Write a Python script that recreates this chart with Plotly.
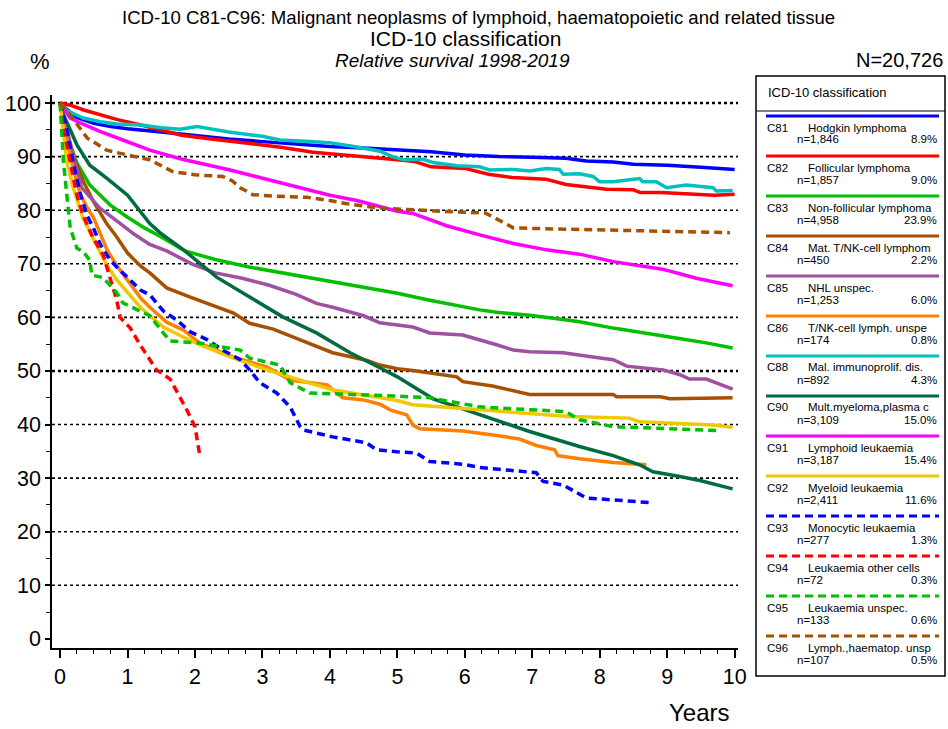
import plotly.graph_objects as go

# ---------------- data ----------------
codes = ["C81", "C82", "C83", "C84", "C85", "C86", "C88", "C90", "C91", "C92", "C93", "C94", "C95", "C96"]
names = ["Hodgkin lymphoma", "Follicular lymphoma", "Non-follicular lymphoma", "Mat. T/NK-cell lymphom",
         "NHL unspec.", "T/NK-cell lymph. unspe", "Mal. immunoprolif. dis.", "Mult.myeloma,plasma c",
         "Lymphoid leukaemia", "Myeloid leukaemia", "Monocytic leukaemia", "Leukaemia other cells",
         "Leukaemia unspec.", "Lymph.,haematop. unsp"]
n_cases = ["n=1,846", "n=1,857", "n=4,958", "n=450", "n=1,253", "n=174", "n=892", "n=3,109",
           "n=3,187", "n=2,411", "n=277", "n=72", "n=133", "n=107"]
shares = ["8.9%", "9.0%", "23.9%", "2.2%", "6.0%", "0.8%", "4.3%", "15.0%", "15.4%", "11.6%",
          "1.3%", "0.3%", "0.6%", "0.5%"]

c81_t = [0, 0.1, 0.25, 0.5, 0.75, 1, 1.5, 2, 2.5, 3, 3.5, 4, 4.5, 5, 5.5, 6, 6.5, 7, 7.5, 7.8, 8.2, 8.5, 9, 9.5, 10]
c81_v = [100, 98.8, 97.3, 96.2, 95.6, 95.2, 94.6, 93.9, 93.3, 92.8, 92.3, 91.9, 91.6, 91.3, 90.9, 90.3, 90.0,
         89.9, 89.7, 89.2, 89.0, 88.6, 88.4, 88.0, 87.6]

c82_t = [0, 0.15, 0.35, 0.6, 0.85, 1.1, 1.4, 1.8, 2.3, 2.8, 3.3, 3.75, 4.25, 4.75, 5.0, 5.25, 5.5, 6.0, 6.35,
         6.7, 7.2, 7.5, 7.8, 8.1, 8.5, 8.6, 8.9, 9.3, 9.7, 10]
c82_v = [100, 99.6, 98.7, 97.8, 96.9, 96.2, 95.3, 94.0, 93.2, 92.5, 91.7, 90.8, 90.3, 89.7, 89.4, 89.1, 88.1,
         87.8, 86.7, 86.1, 85.8, 84.8, 84.4, 83.9, 83.8, 83.3, 83.3, 83.0, 82.8, 83.0]

c83_t = [0, 0.05, 0.1, 0.25, 0.44, 0.74, 1.0, 1.25, 1.5, 1.85, 2.3, 2.8, 3.3, 3.8, 4.3, 4.74, 5.0, 5.48, 6.0,
         6.22, 6.5, 6.96, 7.4, 7.7, 8.2, 8.69, 9.2, 9.6, 9.97]
c83_v = [100, 97, 94, 88.8, 84.7, 81, 78.7, 76.7, 75.0, 72.4, 70.8, 69.4, 68.3, 67.1, 66.0, 65.1, 64.5, 63.2,
         61.9, 61.4, 60.9, 60.4, 59.7, 59.2, 58.0, 57.1, 56.0, 55.2, 54.3]

c84_t = [0, 0.1, 0.2, 0.34, 0.5, 0.69, 0.84, 1.0, 1.2, 1.33, 1.58, 1.93, 2.22, 2.57, 2.81, 3.16, 3.56, 4.04,
         4.54, 4.74, 5.0, 5.23, 5.88, 5.97, 6.41, 6.96, 7.5, 8.2, 8.25, 8.9, 9.04, 9.97]
c84_v = [100, 95, 90, 85.5, 81.5, 77.5, 75.0, 72.0, 69.5, 68.3, 65.5, 63.8, 62.5, 60.8, 58.9, 57.8, 55.8, 53.4,
         52.0, 51.1, 50.4, 50.1, 48.9, 48.0, 47.2, 45.6, 45.6, 45.6, 45.2, 45.2, 44.8, 45.0]

c85_t = [0, 0.15, 0.32, 0.59, 0.84, 1.1, 1.33, 1.58, 1.95, 2.3, 2.7, 3.1, 3.5, 3.8, 4.04, 4.5, 4.74, 5.0, 5.23,
         5.48, 5.97, 6.47, 6.72, 6.96, 7.46, 7.95, 8.2, 8.4, 8.94, 9.19, 9.33, 9.58, 9.97]
c85_v = [100, 92.2, 84.2, 80.4, 78.0, 75.5, 73.6, 72.4, 70.0, 68.3, 67.3, 66.0, 64.3, 62.6, 61.9, 60.3, 59.0,
         58.5, 58.2, 57.1, 56.7, 54.9, 53.9, 53.6, 53.4, 52.5, 52.1, 50.9, 50.2, 49.3, 48.5, 48.5, 46.6]

c86_t = [0, 0.1, 0.2, 0.3, 0.4, 0.5, 0.6, 0.7, 0.85, 1.0, 1.2, 1.33, 1.58, 1.83, 2.07, 2.57, 3.07, 3.41, 3.96,
         4.19, 4.5, 4.74, 4.9, 5.14, 5.23, 5.33, 5.97, 6.5, 6.81, 7.06, 7.33, 7.38, 7.7, 8.2, 8.69]
c86_v = [100, 93, 87.5, 83, 80.5, 78.5, 75.5, 72.5, 69.5, 67.0, 63.5, 61.9, 59.1, 57.6, 55.2, 52.6, 50.7, 48.3,
         47.4, 45.0, 44.6, 43.8, 42.7, 41.8, 39.9, 39.2, 38.8, 37.9, 37.3, 36.1, 35.3, 34.2, 33.6, 32.9, 32.5]

c88_t = [0, 0.1, 0.34, 0.6, 0.84, 1.2, 1.5, 1.78, 2.03, 2.5, 3.0, 3.26, 3.7, 4.0, 4.4, 4.74, 4.93, 5.1, 5.38,
         5.53, 5.88, 6.22, 6.37, 6.72, 6.96, 7.21, 7.4, 7.46, 7.7, 7.9, 8.0, 8.2, 8.59, 8.64, 8.84, 8.99, 9.28,
         9.68, 9.73, 9.97]
c88_v = [100, 98.6, 97.2, 96.5, 96.1, 95.9, 95.4, 95.1, 95.6, 94.6, 93.8, 93.1, 92.8, 92.6, 91.8, 91.0, 90.0,
         89.4, 89.5, 88.9, 88.3, 88.1, 87.5, 87.6, 87.3, 87.8, 87.6, 86.7, 86.8, 86.3, 85.3, 85.3, 85.9, 85.3,
         85.3, 84.2, 84.7, 84.2, 83.6, 83.7]

c90_t = [0, 0.05, 0.25, 0.44, 0.69, 1.0, 1.33, 1.5, 1.83, 2.32, 2.81, 3.3, 3.8, 4.3, 4.74, 5.0, 5.53, 6.22,
         6.96, 7.7, 8.2, 8.59, 8.79, 9.19, 9.5, 9.97]
c90_v = [100, 97.8, 92.2, 88.4, 86.0, 82.8, 77.5, 75.6, 72.6, 67.5, 63.8, 60.1, 57.1, 53.4, 50.6, 48.9, 44.8,
         41.8, 38.7, 35.9, 34.2, 32.5, 31.2, 30.3, 29.5, 28.0]

c91_t = [0, 0.15, 0.35, 0.59, 0.93, 1.33, 1.78, 2.2, 2.52, 2.9, 3.26, 3.6, 4.0, 4.4, 4.74, 5.0, 5.23, 5.73,
         6.22, 6.72, 7.21, 7.7, 8.2, 8.6, 8.93, 9.2, 9.43, 9.7, 9.97]
c91_v = [100, 97.2, 96.0, 94.7, 93.1, 91.2, 89.6, 88.5, 87.5, 86.3, 85.1, 84.0, 82.8, 81.8, 80.6, 79.8, 79.4,
         77.1, 75.4, 73.8, 72.6, 71.8, 70.4, 69.6, 69.0, 68.1, 67.3, 66.6, 65.9]

c92_t = [0, 0.05, 0.1, 0.2, 0.34, 0.54, 0.69, 0.84, 1.0, 1.19, 1.33, 1.53, 1.83, 2.07, 2.57, 3.07, 3.56, 4.04,
         4.5, 5.0, 5.23, 6.22, 7.55, 8.44, 8.59, 9.0, 9.68, 9.97]
c92_v = [100, 95, 89, 84, 78.5, 73.5, 69.8, 67.0, 64.6, 61.9, 60.3, 58.2, 56.3, 54.9, 52.4, 50.2, 48.3, 46.5,
         45.5, 44.5, 43.7, 42.7, 41.5, 41.2, 40.5, 40.3, 39.9, 39.5]

c93_t = [0, 0.1, 0.2, 0.3, 0.4, 0.5, 0.6, 0.74, 0.84, 1.0, 1.19, 1.33, 1.53, 1.73, 1.93, 2.17, 2.41, 2.67,
         2.81, 2.96, 3.21, 3.41, 3.56, 3.6, 4.04, 4.54, 4.69, 5.0, 5.28, 5.48, 5.97, 6.22, 7.06, 7.16, 7.46,
         7.8, 8.79]
c93_v = [100, 95, 88.5, 83, 79, 76.5, 73.5, 70.7, 69.4, 67.5, 65.1, 64.2, 61.2, 59.5, 57.3, 55.9, 53.9, 52.1,
         50.2, 47.8, 45.9, 43.3, 39.6, 39.0, 37.7, 36.6, 35.3, 34.9, 34.7, 33.1, 32.6, 32.0, 31.0, 29.4, 28.7,
         26.3, 25.4]

c94_t = [0, 0.05, 0.15, 0.25, 0.34, 0.49, 0.64, 0.74, 0.84, 0.89, 1.04, 1.19, 1.33, 1.43, 1.63, 1.78, 1.88,
         2.0, 2.05, 2.07]
c94_v = [100, 95.3, 89.0, 82.8, 79.1, 74.8, 71.6, 67.5, 63.2, 60.0, 58.0, 54.8, 52.1, 50.2, 48.5, 45.1, 42.7,
         39.6, 35.3, 34.3]

c95_t = [0, 0.05, 0.1, 0.15, 0.25, 0.34, 0.44, 0.47, 0.64, 0.84, 0.93, 1.23, 1.33, 1.53, 1.63, 2.07, 2.22,
         2.67, 2.81, 3.26, 3.41, 3.7, 5.0, 5.48, 6.22, 7.5, 7.7, 8.2, 9.73]
c95_v = [100, 89, 82.8, 76.7, 72.9, 72.3, 70.7, 67.9, 67.4, 64.6, 62.7, 60.8, 60.3, 57.1, 55.6, 55.2, 54.9,
         53.9, 52.4, 51.1, 47.8, 45.9, 45.3, 45.0, 43.3, 42.4, 40.9, 39.6, 38.9]

c96_t = [0, 0.15, 0.4, 0.69, 1.0, 1.33, 1.67, 1.82, 2.0, 2.41, 2.55, 2.67, 2.86, 3.2, 3.66, 4.0, 4.25, 4.74,
         5.0, 5.5, 6.0, 6.3, 6.5, 6.72, 7.0, 8.0, 9.0, 9.93]
c96_v = [100, 97.8, 93.5, 91.2, 90.3, 89.4, 87.2, 86.9, 86.6, 86.3, 85.5, 84.2, 82.9, 82.6, 82.4, 81.8, 81.2,
         80.4, 80.2, 79.9, 79.6, 79.5, 78.2, 76.7, 76.6, 76.3, 76.0, 75.8]

series_t = [c81_t, c82_t, c83_t, c84_t, c85_t, c86_t, c88_t, c90_t, c91_t, c92_t, c93_t, c94_t, c95_t, c96_t]
series_v = [c81_v, c82_v, c83_v, c84_v, c85_v, c86_v, c88_v, c90_v, c91_v, c92_v, c93_v, c94_v, c95_v, c96_v]

y_ticks = [0, 10, 20, 30, 40, 50, 60, 70, 80, 90, 100]
x_ticks = [0, 1, 2, 3, 4, 5, 6, 7, 8, 9, 10]
grid_vals = [10, 20, 30, 40, 50, 60, 70, 80, 90, 100]
bold_grid_vals = [50, 100]

# ---------------- styles ----------------
colors = ["#0000FF", "#FF0000", "#00C000", "#A65000", "#A050A0", "#FF8000", "#00C0C0", "#006B3C",
          "#FF00FF", "#F0C800", "#0000FF", "#FF0000", "#00C000", "#A65000"]
dashes = ["solid"] * 10 + ["8px,5px"] * 4

FONT = "Liberation Sans, Arial, sans-serif"
W, H = 948, 729
L, R, T, B = 52, 210, 95, 81
PW, PH = W - L - R, H - T - B


def px(x):
    return (x - L) / PW


def py(y):
    return (H - B - y) / PH


fig = go.Figure()
for i in range(len(codes)):
    fig.add_trace(go.Scatter(x=series_t[i], y=series_v[i], mode="lines", name=codes[i],
                             line=dict(color=colors[i], width=3.5, dash=dashes[i]),
                             showlegend=False, hoverinfo="skip"))

shapes = []
for g in grid_vals:
    shapes.append(dict(type="line", xref="paper", yref="y", x0=0, x1=1, y0=g, y1=g,
                       line=dict(color="black", width=2.6 if g in bold_grid_vals else 1.6, dash="dot"),
                       layer="below"))

# legend box
shapes.append(dict(type="rect", xref="paper", yref="paper", x0=px(756), x1=px(945), y0=py(676), y1=py(76),
                   line=dict(color="black", width=1.5), fillcolor="rgba(0,0,0,0)"))
shapes.append(dict(type="line", xref="paper", yref="paper", x0=px(756), x1=px(945), y0=py(111), y1=py(111),
                   line=dict(color="black", width=1.2)))

annotations = []
annotations.append(dict(text="ICD-10 classification", x=px(766), y=py(93), xref="paper", yref="paper",
                        xanchor="left", yanchor="middle", showarrow=False,
                        font=dict(family=FONT, size=13, color="black")))
LF = 11.5
for i in range(len(codes)):
    ly = 116 + 40 * i
    shapes.append(dict(type="line", xref="paper", yref="paper", x0=px(766), x1=px(939), y0=py(ly), y1=py(ly),
                       line=dict(color=colors[i], width=3, dash=dashes[i])))
    annotations.append(dict(text=codes[i], x=px(765), y=py(ly + 11.5), xref="paper", yref="paper",
                            xanchor="left", yanchor="middle", showarrow=False,
                            font=dict(family=FONT, size=LF, color="black")))
    annotations.append(dict(text=names[i], x=px(806), y=py(ly + 11.5), xref="paper", yref="paper",
                            xanchor="left", yanchor="middle", showarrow=False,
                            font=dict(family=FONT, size=LF, color="black")))
    annotations.append(dict(text=n_cases[i], x=px(795), y=py(ly + 23.5), xref="paper", yref="paper",
                            xanchor="left", yanchor="middle", showarrow=False,
                            font=dict(family=FONT, size=LF, color="black")))
    annotations.append(dict(text=shares[i], x=px(939), y=py(ly + 23.5), xref="paper", yref="paper",
                            xanchor="right", yanchor="middle", showarrow=False,
                            font=dict(family=FONT, size=LF, color="black")))

# titles
annotations.append(dict(text="ICD-10 C81-C96: Malignant neoplasms of lymphoid, haematopoietic and related tissue",
                        x=px(478), y=py(18), xref="paper", yref="paper", xanchor="center", yanchor="middle",
                        showarrow=False, font=dict(family=FONT, size=18.6, color="black")))
annotations.append(dict(text="ICD-10 classification", x=px(465), y=py(38), xref="paper", yref="paper",
                        xanchor="center", yanchor="middle", showarrow=False,
                        font=dict(family=FONT, size=21, color="black")))
annotations.append(dict(text="<i>Relative survival 1998-2019</i>", x=px(452), y=py(60), xref="paper",
                        yref="paper", xanchor="center", yanchor="middle", showarrow=False,
                        font=dict(family=FONT, size=19, color="black")))
annotations.append(dict(text="%", x=px(40), y=py(62), xref="paper", yref="paper", xanchor="center",
                        yanchor="middle", showarrow=False, font=dict(family=FONT, size=22, color="black")))
annotations.append(dict(text="N=20,726", x=px(945), y=py(60), xref="paper", yref="paper", xanchor="right",
                        yanchor="middle", showarrow=False, font=dict(family=FONT, size=20, color="black")))
annotations.append(dict(text="Years", x=px(732), y=py(712), xref="paper", yref="paper", xanchor="right",
                        yanchor="middle", showarrow=False, font=dict(family=FONT, size=24, color="black")))

fig.update_layout(
    width=W, height=H,
    margin=dict(l=L, r=R, t=T, b=B, pad=0, autoexpand=False),
    paper_bgcolor="white", plot_bgcolor="white",
    shapes=shapes, annotations=annotations,
    xaxis=dict(range=[-0.12, 10.05], tickvals=x_ticks, ticktext=[str(v) for v in x_ticks], automargin=False,
               showgrid=False, zeroline=False, showline=True, linecolor="black", linewidth=1.5,
               ticks="outside", ticklen=8, tickwidth=1.5, tickcolor="black",
               minor=dict(dtick=0.25, tick0=0, ticks="outside", ticklen=4, tickwidth=1, tickcolor="black"),
               tickfont=dict(family=FONT, size=21.5, color="black")),
    yaxis=dict(range=[-1.7, 101.5], tickvals=y_ticks, ticktext=[str(v) for v in y_ticks], automargin=False,
               showgrid=False, zeroline=False, showline=True, linecolor="black", linewidth=1.5,
               ticks="outside", ticklen=5, tickwidth=1.5, tickcolor="black",
               minor=dict(dtick=5, tick0=0, ticks="outside", ticklen=4, tickwidth=1, tickcolor="black"),
               tickfont=dict(family=FONT, size=21.5, color="black")),
)

fig.write_html("out.html", config={"displayModeBar": False},
               post_script="document.body.style.margin='0';")
